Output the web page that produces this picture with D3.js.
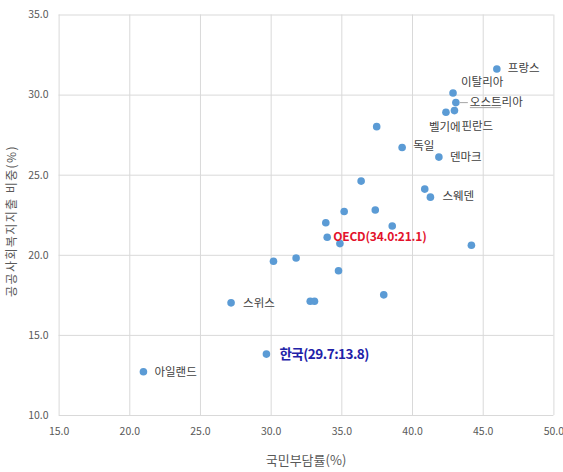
<!DOCTYPE html>
<html>
<head>
<meta charset="utf-8">
<script src="https://cdn.jsdelivr.net/npm/d3@7"></script>
<style>
  html, body { margin: 0; padding: 0; background: #fff; }
  svg { display: block; font-family: "Noto Sans CJK KR", "Noto Sans", sans-serif; }
</style>
</head>
<body>
<svg id="chart" width="563" height="472"></svg>
<script>
// 국민부담률(%) vs 공공사회복지지출 비중(%) — OECD 회원국
const taxBurden   = [46.0, 42.9, 43.1, 42.4, 43.0, 37.5, 39.3, 41.9, 36.4, 40.9, 41.3, 35.2, 37.4,
                     33.9, 38.6, 34.0, 34.9, 44.2, 30.2, 31.8, 34.8, 32.8, 33.1, 38.0, 27.2, 29.7, 21.0];
const welfareShare = [31.6, 30.1, 29.5, 28.9, 29.0, 28.0, 26.7, 26.1, 24.6, 24.1, 23.6, 22.7, 22.8,
                     22.0, 21.8, 21.1, 20.7, 20.6, 19.6, 19.8, 19.0, 17.1, 17.1, 17.5, 17.0, 13.8, 12.7];
const pointLabels = ["프랑스", "이탈리아", "오스트리아", "벨기에", "핀란드", "", "독일", "덴마크", "", "", "스웨덴", "", "",
                     "", "", "OECD", "", "", "", "", "", "", "", "", "스위스", "한국", "아일랜드"];
const xTicks = [15.0, 20.0, 25.0, 30.0, 35.0, 40.0, 45.0, 50.0];
const yTicks = [10.0, 15.0, 20.0, 25.0, 30.0, 35.0];
const xTitle = "국민부담률(%)";
const yTitle = "공공사회복지지출 비중(%)";

const svg = d3.select("#chart");
const margin = { left: 58.6, right: 563 - 553.4, top: 14.5, bottom: 472 - 415 };
const W = 563, H = 472;

const x = d3.scaleLinear().domain([15, 50]).range([margin.left, W - margin.right]);
const y = d3.scaleLinear().domain([10, 35]).range([H - margin.bottom, margin.top]);

const gridColor = "#d9d9d9";
const tickColor = "#595959";

// vertical gridlines + x tick labels
const xAxis = d3.axisBottom(x).tickValues(xTicks).tickFormat(d3.format(".1f")).tickSize(-(y(10) - y(35))).tickPadding(13);
const gx = svg.append("g").attr("transform", `translate(0,${y(10)})`).call(xAxis);
gx.select(".domain").remove();
gx.selectAll(".tick line").attr("stroke", gridColor).attr("stroke-width", 1);
gx.selectAll(".tick text").attr("fill", tickColor).attr("font-size", 10.5)
  .attr("font-family", "'Noto Sans CJK KR', sans-serif");

// horizontal gridlines + y tick labels
const yAxis = d3.axisLeft(y).tickValues(yTicks).tickFormat(d3.format(".1f")).tickSize(-(x(50) - x(15))).tickPadding(10);
const gy = svg.append("g").attr("transform", `translate(${x(15)},0)`).call(yAxis);
gy.select(".domain").remove();
gy.selectAll(".tick line").attr("stroke", gridColor).attr("stroke-width", 1);
gy.selectAll(".tick text").attr("fill", tickColor).attr("font-size", 10.5)
  .attr("font-family", "'Noto Sans CJK KR', sans-serif");

// axis titles
svg.append("text")
  .attr("x", (x(15) + x(50)) / 2)
  .attr("y", 461)
  .attr("text-anchor", "middle")
  .attr("dominant-baseline", "middle")
  .attr("fill", tickColor)
  .attr("font-size", 13)
  .text(xTitle);

svg.append("text")
  .attr("transform", `translate(13,221) rotate(-90)`)
  .attr("text-anchor", "middle")
  .attr("dominant-baseline", "middle")
  .attr("fill", tickColor)
  .attr("font-size", 12)
  .attr("letter-spacing", 1.4)
  .text(yTitle);

const data = taxBurden.map((v, i) => ({ x: v, y: welfareShare[i], label: pointLabels[i] }));

// points
svg.append("g").selectAll("circle")
  .data(data)
  .join("circle")
  .attr("cx", d => x(d.x))
  .attr("cy", d => y(d.y))
  .attr("r", 3.8)
  .attr("fill", "#5b9bd5");

// label placement relative to each point
const labelOffset = {
  "프랑스": [11, 0], "이탈리아": [8, -10], "오스트리아": [14, 0], "벨기에": [-17, 16],
  "핀란드": [7, 16], "독일": [11, -1], "덴마크": [11, 1], "스웨덴": [12, 0],
  "OECD": [6, 1], "스위스": [12, 1], "한국": [13, 1], "아일랜드": [11, 1]
};

const labeled = data.filter(d => d.label);

// leader line for the Austria label
labeled.filter(d => d.label === "오스트리아").forEach(d => {
  const px = x(d.x), py = y(d.y);
  svg.append("path")
    .attr("d", `M${px + 4},${py} H${px + 12} M${px + 14},${py + 5} H${px + 45}`)
    .attr("stroke", "#a6a6a6").attr("stroke-width", 1).attr("fill", "none");
});

const lbl = svg.append("g").selectAll("text")
  .data(labeled)
  .join("text")
  .attr("x", d => x(d.x) + labelOffset[d.label][0])
  .attr("y", d => y(d.y) + labelOffset[d.label][1])
  .attr("dominant-baseline", "middle")
  .attr("font-size", 11.5)
  .attr("fill", "#404040")
  .text(d => {
    if (d.label === "OECD") return `OECD(${d.x.toFixed(1)}:${d.y.toFixed(1)})`;
    if (d.label === "한국") return `한국(${d.x.toFixed(1)}:${d.y.toFixed(1)})`;
    return d.label;
  });

lbl.filter(d => d.label === "OECD")
  .attr("fill", "#e3122b").attr("font-weight", "bold").attr("font-size", 12).attr("letter-spacing", -0.2);
lbl.filter(d => d.label === "한국")
  .attr("fill", "#2222a8").attr("font-weight", "bold").attr("font-size", 13.5).attr("letter-spacing", -0.5);
</script>
</body>
</html>
